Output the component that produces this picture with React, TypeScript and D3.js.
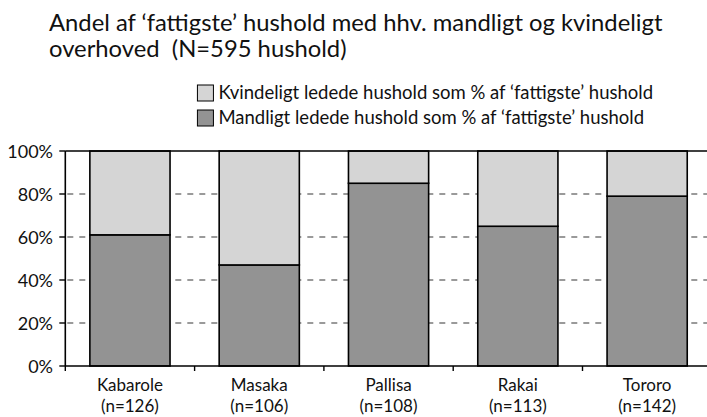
import React, { useRef, useEffect } from 'react';
import * as d3 from 'd3';

const districts = ['Kabarole', 'Masaka', 'Pallisa', 'Rakai', 'Tororo'];
const sampleSizes = [126, 106, 108, 113, 142];
const malePct = [61, 47, 85, 65, 79];
const femalePct = [39, 53, 15, 35, 21];
const yTicks = [0, 20, 40, 60, 80, 100];
const seriesNames = [
  "Kvindeligt ledede hushold som % af \u2018fattigste\u2019 hushold",
  "Mandligt ledede hushold som % af \u2018fattigste\u2019 hushold",
];
const titleLines = [
  "Andel af \u2018fattigste\u2019 hushold med hhv. mandligt og kvindeligt",
  'overhoved  (N=595 hushold)',
];

const W = 707;
const H = 417;
const FONT = 'Lato, "Noto Sans", sans-serif';
const LIGHT = '#d5d5d5';
const DARK = '#939393';

const App = () => {
  const svgRef = useRef<SVGSVGElement>(null);

  useEffect(() => {
    const svg = d3.select(svgRef.current);
    svg.selectAll('*').remove();

    const left = 65.3;
    const top = 151;
    const bottom = 366;
    const step = 129.3;
    const right = left + districts.length * step;

    const x = d3.scaleBand<string>()
      .domain(districts)
      .range([left, right])
      .paddingInner(0.38)
      .paddingOuter(0.19);
    const y = d3.scaleLinear().domain([0, 100]).range([bottom, top]);

    svg.append('rect').attr('width', W).attr('height', H).attr('fill', 'white');

    // title
    svg.append('g')
      .attr('font-family', FONT).attr('font-size', 23.8).attr('fill', '#111')
      .selectAll('text')
      .data(titleLines)
      .join('text')
      .attr('x', 49)
      .attr('y', (d, i) => 31 + i * 26)
      .attr('xml:space', 'preserve')
      .style('white-space', 'pre')
      .text(d => d);

    // legend: text lines end where the reference has them
    const legend = svg.append('g').attr('font-family', FONT).attr('font-size', 18.5).attr('fill', '#111');
    const legendTexts = legend.selectAll('text')
      .data(seriesNames)
      .join('text')
      .attr('y', (d, i) => 99 + i * 25)
      .text(d => d);
    const firstWidth = (legendTexts.node() as SVGTextElement).getComputedTextLength();
    const textX = 653 - firstWidth;
    legendTexts.attr('x', textX);
    legend.selectAll('rect')
      .data([LIGHT, DARK])
      .join('rect')
      .attr('x', textX - 21)
      .attr('y', (d, i) => 85 + i * 25)
      .attr('width', 16)
      .attr('height', 16)
      .attr('fill', d => d)
      .attr('stroke', '#000')
      .attr('stroke-width', 1);

    // dashed grid
    svg.append('g')
      .selectAll('line')
      .data(yTicks.filter(t => t > 0 && t < 100))
      .join('line')
      .attr('x1', left).attr('x2', right)
      .attr('y1', d => y(d)).attr('y2', d => y(d))
      .attr('stroke', '#7a7a7a')
      .attr('stroke-width', 1.6)
      .attr('stroke-dasharray', '6 6')
      .attr('stroke-dashoffset', -2);

    // stacked bars
    const rows = districts.map((d, i) => ({ district: d, male: malePct[i], female: femalePct[i] }));
    const stack = d3.stack<any>().keys(['male', 'female'])(rows);
    svg.append('g')
      .selectAll('g')
      .data(stack)
      .join('g')
      .attr('fill', (d, i) => (i === 0 ? DARK : LIGHT))
      .selectAll('rect')
      .data(d => d)
      .join('rect')
      .attr('x', d => x(d.data.district)!)
      .attr('width', x.bandwidth())
      .attr('y', d => y(d[1]))
      .attr('height', d => y(d[0]) - y(d[1]))
      .attr('stroke', '#000')
      .attr('stroke-width', 1.6);

    // frame
    const frame = svg.append('g').attr('stroke', '#000').attr('stroke-width', 1.6);
    frame.append('line').attr('x1', left).attr('x2', right).attr('y1', y(100)).attr('y2', y(100));
    frame.append('line').attr('x1', left).attr('x2', right).attr('y1', y(0)).attr('y2', y(0));
    frame.append('line').attr('x1', left).attr('x2', left).attr('y1', y(100)).attr('y2', y(0));

    // y axis
    const yAxis = svg.append('g').attr('font-family', FONT).attr('font-size', 18).attr('fill', '#111');
    yAxis.selectAll('line')
      .data(yTicks)
      .join('line')
      .attr('x1', left - 6).attr('x2', left)
      .attr('y1', d => y(d)).attr('y2', d => y(d))
      .attr('stroke', '#000').attr('stroke-width', 1.4);
    yAxis.selectAll('text')
      .data(yTicks)
      .join('text')
      .attr('x', 53)
      .attr('y', d => y(d) + 6.5)
      .attr('text-anchor', 'end')
      .text(d => `${d}%`);

    // x axis ticks at band boundaries
    svg.append('g')
      .selectAll('line')
      .data(d3.range(districts.length + 1))
      .join('line')
      .attr('x1', i => left + i * step).attr('x2', i => left + i * step)
      .attr('y1', y(0)).attr('y2', y(0) + 5)
      .attr('stroke', '#000').attr('stroke-width', 1.4);

    // category labels
    const cats = svg.append('g')
      .attr('font-family', FONT).attr('font-size', 17).attr('fill', '#111')
      .attr('text-anchor', 'middle')
      .selectAll('g')
      .data(districts)
      .join('g');
    cats.append('text')
      .attr('x', d => x(d)! + x.bandwidth() / 2)
      .attr('y', 391)
      .text(d => d);
    cats.append('text')
      .attr('x', d => x(d)! + x.bandwidth() / 2)
      .attr('y', 412)
      .text((d, i) => `(n=${sampleSizes[i]})`);
  }, []);

  return <svg ref={svgRef} width={W} height={H} style={{ position: 'absolute', left: 0, top: 0 }} />;
};

export default App;
